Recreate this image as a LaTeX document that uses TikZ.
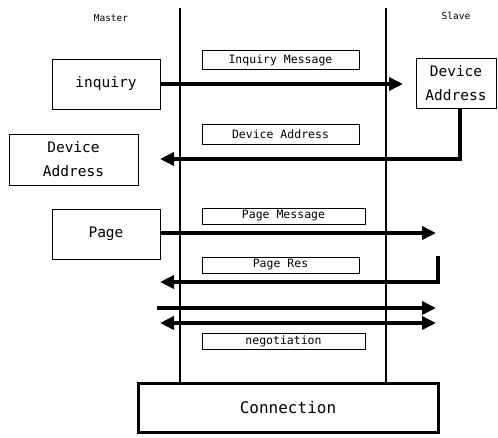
\documentclass[tikz,border=0pt]{standalone}
\usepackage{fontspec}
\setmainfont{DejaVu Sans Mono}
\usetikzlibrary{arrows.meta}
\begin{document}
\begin{tikzpicture}[x=1pt,y=-1pt,
  bigbox/.style={draw,line width=1pt,inner sep=0pt,align=center,font=\fontsize{14.5}{24}\selectfont},
  labelbox/.style={draw,line width=1pt,inner sep=0pt,font=\fontsize{11.5}{13}\selectfont},
  conbox/.style={draw,line width=3pt,inner sep=0pt,font=\fontsize{16}{18}\selectfont},
  headtext/.style={font=\fontsize{9.5}{11}\selectfont,inner sep=0pt},
  lifeline/.style={line width=1.2pt},
  flow/.style={line width=3.5pt,-{Triangle[length=14pt,width=13pt]}},
  flowboth/.style={line width=3.5pt,{Triangle[length=14pt,width=13pt]}-{Triangle[length=14pt,width=13pt]}},
  plain/.style={line width=3.5pt}]
\useasboundingbox (0,0) rectangle (498,437);
% headings
\node[headtext] (master) at (111,18) {Master};
\node[headtext] (slave) at (456,16) {Slave};
% connection box
\node[conbox,minimum width=300pt,minimum height=49pt] (conn) at (288,407.5) {Connection};
% lifelines
\coordinate (lt) at (180,8);
\coordinate (rt) at (386,8);
\draw[lifeline] (lt) -- (lt |- conn.north);
\draw[lifeline] (rt) -- (rt |- conn.north);
% big boxes
\node[bigbox,minimum width=108pt,minimum height=50pt] (inq) at (106,84) {inquiry};
\node[bigbox,minimum width=80pt,minimum height=50pt] (sda) at (456,83) {Device\\Address};
\node[bigbox,minimum width=129pt,minimum height=51pt] (lda) at (73.5,159.5) {Device\\Address};
\node[bigbox,minimum width=108pt,minimum height=50pt] (page) at (106,234) {Page};
% label boxes
\node[labelbox,minimum width=157pt,minimum height=19pt] (lim) at (280.5,60) {Inquiry Message};
\node[labelbox,minimum width=157pt,minimum height=20pt] (lda2) at (280.5,134) {Device Address};
\node[labelbox,minimum width=163pt,minimum height=16pt] (lpm) at (283.5,216) {Page Message};
\node[labelbox,minimum width=157pt,minimum height=16pt] (lpr) at (280.5,265) {Page Res};
\node[labelbox,minimum width=163pt,minimum height=16pt] (lneg) at (283.5,341) {negotiation};
% coordinates
\coordinate (c1) at (403,84);
\coordinate (c2) at (160,159);
\coordinate (c3) at (436,233);
\coordinate (c4s) at (438,256);
\coordinate (c4) at (160,282);
\coordinate (c5s) at (157,308);
\coordinate (c5) at (436,308);
\coordinate (c6s) at (160,323);
\coordinate (c6) at (436,323);
% flows
\draw[flow] (inq.east |- c1) -- (c1);
\draw[flow,rounded corners=0pt] ([xshift=4pt]sda.south) |- (c2);
\draw[flow] (page.east |- c3) -- (c3);
\draw[flow] (c4s) |- (c4);
\draw[flow] (c5s) -- (c5);
\draw[flowboth] (c6s) -- (c6);
\end{tikzpicture}
\end{document}
